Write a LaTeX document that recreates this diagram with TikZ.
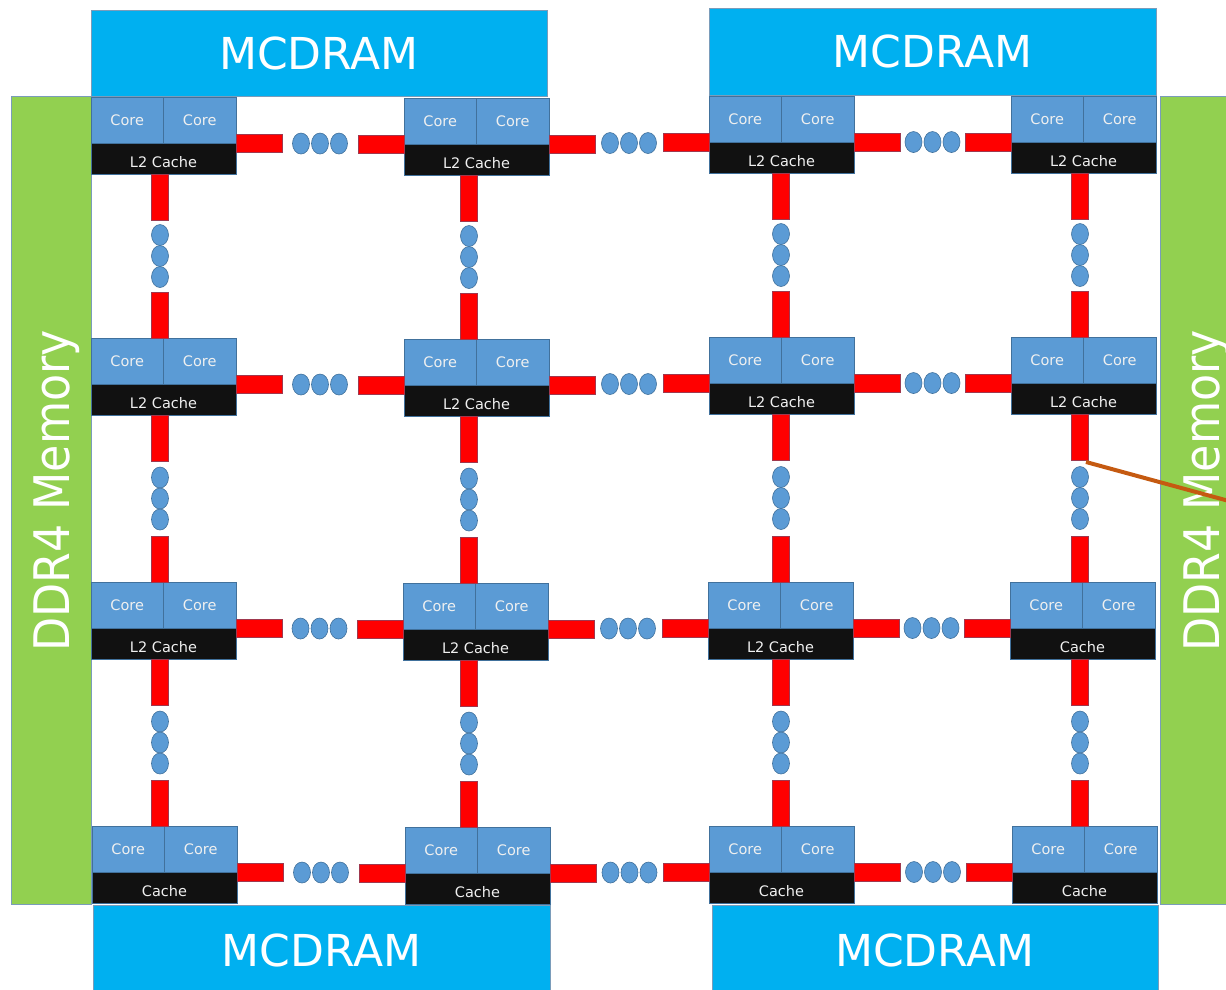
\documentclass[tikz,border=0pt]{standalone}
\usepackage{fontspec}
\setmainfont{DejaVu Sans}
\usetikzlibrary{calc}
\definecolor{mcd}{HTML}{00B0F0}
\definecolor{ddr}{HTML}{92D050}
\definecolor{coreblue}{HTML}{5B9BD5}
\definecolor{edgeblue}{HTML}{41719C}
\definecolor{cachebk}{HTML}{111111}
\definecolor{linkred}{HTML}{FF0000}
\definecolor{orangeline}{HTML}{C55A11}
\tikzset{
 corebox/.style={draw=edgeblue, fill=coreblue, line width=0.8pt, minimum width=72.5pt, minimum height=46pt, inner sep=0pt, outer sep=0pt, text=white!94!black, font=\fontsize{14.5}{16}\selectfont},
 cachebox/.style={draw=edgeblue, fill=cachebk, line width=0.8pt, minimum width=145pt, minimum height=31pt, inner sep=0pt, outer sep=0pt},
 cachetext/.style={text=white!94!black, font=\fontsize{14.5}{16}\selectfont, inner sep=0pt},
 bar/.style={fill=linkred, draw=edgeblue!50!red, line width=0.4pt},
 dot/.style={fill=coreblue, draw=edgeblue, line width=0.6pt},
 mem/.style={fill=mcd, draw=edgeblue!70, line width=0.6pt, text=white, font=\fontsize{44}{50}\selectfont, inner sep=0pt, outer sep=0pt, anchor=north west},
 ddrbox/.style={fill=ddr, draw=edgeblue!70, line width=0.6pt, inner sep=0pt, outer sep=0pt, anchor=north west},
 ddrtext/.style={text=white, font=\fontsize{49}{54}\selectfont, rotate=90, xscale=0.905, anchor=base, inner sep=0pt},
}
\newcommand\mktile[4]{%
 \node[corebox, anchor=north west] (#1L) at (#2,#3) {Core};
 \node[corebox, anchor=north west] (#1R) at (#1L.north east) {Core};
 \node[cachebox, anchor=north west] (#1C) at (#1L.south west) {};
 \node[cachetext] (#1T) at ([yshift=-4pt]#1C.center) {#4};
}
\newcommand\hlink[2]{%
 \draw[bar] (#1R.south east) ++(0,-9) rectangle ++(46,18);
 \draw[bar] (#2L.south west) ++(-46,-9) rectangle ++(46,18);
 \coordinate (m) at ($(#1R.south east)!0.5!(#2L.south west)$);
 \foreach \d in {-19,0,19} \draw[dot] (m) ++(\d,0) ellipse [x radius=8.5, y radius=10.5];
}
\newcommand\vlink[3]{%
 \coordinate (ta) at (#3,0 |- #1C.south);
 \coordinate (tb) at (#3,0 |- #2L.north);
 \draw[bar] (ta) ++(-8.5,0) rectangle ++(17,46);
 \draw[bar] (tb) ++(-8.5,0) rectangle ++(17,-46);
 \coordinate (m) at ($(ta)!0.5!(tb)$);
 \foreach \d in {-21,0,21} \draw[dot] (m) ++(0,\d) ellipse [x radius=8.5, y radius=10.5];
}
\begin{document}
\begin{tikzpicture}[x=1pt, y=-1pt]
\useasboundingbox (0,0) rectangle (1226,989);
\clip (0,0) rectangle (1226,989);
% memories
\node[ddrbox, minimum width=80pt, minimum height=808pt] (ddrL) at (11,96) {};
\node[ddrbox, minimum width=90pt, minimum height=808pt] (ddrR) at (1160,96) {};
\node[ddrtext] (ddrLt) at (69,491) {DDR4 Memory};
\node[ddrtext] (ddrRt) at (1219,491) {DDR4 Memory};
\node[mem, minimum width=456pt, minimum height=86pt] (mcd1) at (91,10) {MCDRAM};
\node[mem, minimum width=447pt, minimum height=87pt] (mcd2) at (709,8) {MCDRAM};
\node[mem, minimum width=457pt, minimum height=90pt] (mcd3) at (93,905) {MCDRAM};
\node[mem, minimum width=446pt, minimum height=90pt] (mcd4) at (712,905) {MCDRAM};
% tiles
\mktile{t11}{91}{97}{L2 Cache}
\mktile{t12}{404}{98}{L2 Cache}
\mktile{t13}{709}{96}{L2 Cache}
\mktile{t14}{1011}{96}{L2 Cache}
\mktile{t21}{91}{338}{L2 Cache}
\mktile{t22}{404}{339}{L2 Cache}
\mktile{t23}{709}{337}{L2 Cache}
\mktile{t24}{1011}{337}{L2 Cache}
\mktile{t31}{91}{582}{L2 Cache}
\mktile{t32}{403}{583}{L2 Cache}
\mktile{t33}{708}{582}{L2 Cache}
\mktile{t34}{1010}{582}{Cache}
\mktile{t41}{92}{826}{Cache}
\mktile{t42}{405}{827}{Cache}
\mktile{t43}{709}{826}{Cache}
\mktile{t44}{1012}{826}{Cache}
% horizontal links
\foreach \r in {1,2,3,4}{
 \hlink{t\r1}{t\r2}
 \hlink{t\r2}{t\r3}
 \hlink{t\r3}{t\r4}
}
% vertical links
\foreach \a/\b in {1/2,2/3,3/4}{
 \vlink{t\a1}{t\b1}{160}
 \vlink{t\a2}{t\b2}{469}
 \vlink{t\a3}{t\b3}{781}
 \vlink{t\a4}{t\b4}{1080}
}
% pointer line
\coordinate (os) at (1086,462);
\coordinate (oe) at (1240,504);
\draw[orangeline, line width=4pt] (os) -- (oe);
\end{tikzpicture}
\end{document}
